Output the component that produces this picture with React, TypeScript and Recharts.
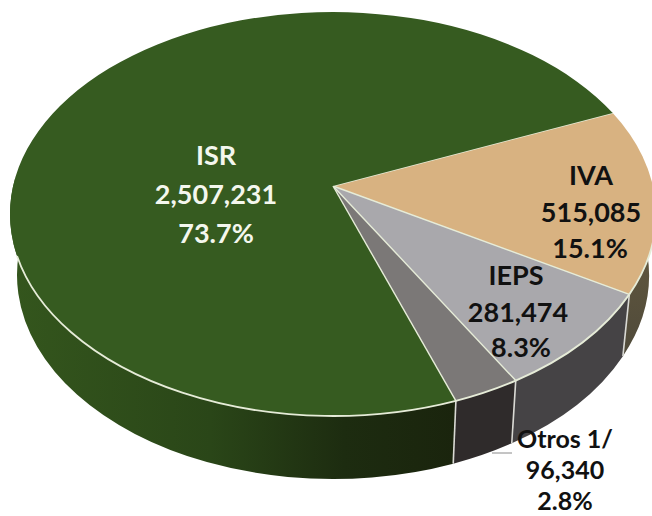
import React from "react";
import { PieChart, Pie } from "recharts";

const categories = ["IVA", "IEPS", "Otros 1/", "ISR"];
const amounts = [515085, 281474, 96340, 2507231];
const amountLabels = ["515,085", "281,474", "96,340", "2,507,231"];
const shareLabels = ["15.1%", "8.3%", "2.8%", "73.7%"];

const topColors = ["#d8b281", "#a9a8ac", "#7b7877", "#365b20"];
const sideFills = ["url(#sideIva)", "#454345", "#2f2b2b", "url(#sideIsr)"];
const labelColors = ["#111111", "#111111", "#111111", "#f4f7ee"];

const rows = categories.map((name, i) => ({ name, value: amounts[i] }));

// Projection of the tilted disc
const APEX = { x: 333, y: 186 };
const TOP = { x: 333, y: 214, rx: 323, ry: 202 };
const BOTTOM = { x: 333, y: 275, rx: 316, ry: 204 };
const LABEL_SIZES = [27, 27, 25, 27];
const LABEL_LINES = [
  [{ x: 591, y: 185 }, { x: 591, y: 222 }, { x: 590, y: 258 }],
  [{ x: 516, y: 285 }, { x: 518, y: 322 }, { x: 521, y: 357 }],
  [{ x: 565, y: 448 }, { x: 565, y: 479 }, { x: 565, y: 510 }],
  [{ x: 216, y: 165 }, { x: 216, y: 204 }, { x: 216, y: 243 }],
];
// Perspective: pie angle -> angle around the drawn ellipse
const WARP = [
  [30, 30],
  [-24.4, -23.3],
  [-54.3, -55.5],
  [-64.4, -67.5],
  [-330, -330],
];
const warp = (a: number) => {
  for (let i = 0; i < WARP.length - 1; i++) {
    const [a0, t0] = WARP[i];
    const [a1, t1] = WARP[i + 1];
    if (a <= a0 && a >= a1) return t0 + ((a - a0) / (a1 - a0)) * (t1 - t0);
  }
  return a;
};

const onEllipse = (e: typeof TOP, deg: number) => {
  const r = (deg * Math.PI) / 180;
  return { x: e.x + e.rx * Math.cos(r), y: e.y - e.ry * Math.sin(r) };
};
const arc = (e: typeof TOP, from: number, to: number) => {
  const end = onEllipse(e, to);
  const large = Math.abs(to - from) > 180 ? 1 : 0;
  const sweep = to < from ? 1 : 0;
  return `A${e.rx} ${e.ry} 0 ${large} ${sweep} ${end.x} ${end.y}`;
};

const RIM = "#e6ecd8";

const TopShape = (p: any) => {
  const s = warp(p.startAngle);
  const e = warp(p.endAngle);
  const a = onEllipse(TOP, s);
  const rimFrom = Math.min(s, 0);
  const rimTo = Math.max(e, -168);
  const r0 = onEllipse(TOP, rimFrom);
  return (
    <g>
      <path d={`M${APEX.x} ${APEX.y}L${a.x} ${a.y}${arc(TOP, s, e)}Z`} fill={topColors[p.index]} />
      <line x1={APEX.x} y1={APEX.y} x2={a.x} y2={a.y} stroke={RIM} strokeWidth={1.4} />
      {rimFrom > rimTo && (
        <path d={`M${r0.x} ${r0.y}${arc(TOP, rimFrom, rimTo)}`} fill="none" stroke={RIM} strokeWidth={1.8} />
      )}
    </g>
  );
};

const SideShape = (p: any) => {
  const s = warp(p.startAngle);
  const e = warp(p.endAngle);
  const from = Math.min(s, 8);
  const to = Math.max(e, -190);
  if (from <= to) return <g />;
  const a = onEllipse(TOP, from);
  const b = onEllipse(BOTTOM, to);
  const edge = onEllipse(TOP, s);
  const edgeLow = onEllipse(BOTTOM, s);
  return (
    <g>
      <path
        d={`M${a.x} ${a.y}${arc(TOP, from, to)}L${b.x} ${b.y}${arc(BOTTOM, to, from)}Z`}
        fill={sideFills[p.index]}
      />
      {s < 0 && <line x1={edge.x} y1={edge.y} x2={edgeLow.x} y2={edgeLow.y} stroke="#d9d9d4" strokeWidth={1.6} />}
    </g>
  );
};

const renderLabel = (p: any) => {
  const i = p.index;
  const lines = LABEL_LINES[i];
  const texts = [categories[i], amountLabels[i], shareLabels[i]];
  return (
    <g key={categories[i]}>
      {i === 2 && <line x1={492} y1={453} x2={512} y2={453} stroke="#8a8a8a" strokeWidth={1} />}
      {texts.map((t, k) => (
        <text
          key={k}
          x={lines[k].x}
          y={lines[k].y}
          textAnchor="middle"
          fill={labelColors[i]}
          fontFamily="Lato, 'Open Sans', sans-serif"
          fontWeight={700}
          fontSize={LABEL_SIZES[i]}
        >
          {t}
        </text>
      ))}
    </g>
  );
};

export default function App() {
  return (
    <div style={{ position: "absolute", left: 0, top: 0, width: 652, height: 516, overflow: "hidden", background: "#fff" }}>
      <PieChart width={652} height={516} margin={{ top: 0, right: 0, bottom: 0, left: 0 }}>
        <defs>
          <linearGradient id="sideIsr" x1="0" y1="0" x2="1" y2="0">
            <stop offset="0" stopColor="#34561d" />
            <stop offset="0.45" stopColor="#2a4618" />
            <stop offset="0.75" stopColor="#1d2c10" />
            <stop offset="1" stopColor="#1a240d" />
          </linearGradient>
          <linearGradient id="sideIva" x1="0" y1="1" x2="0" y2="0">
            <stop offset="0" stopColor="#4f4a3a" />
            <stop offset="1" stopColor="#6a5d40" />
          </linearGradient>
        </defs>
        <Pie
          data={rows}
          dataKey="value"
          nameKey="name"
          startAngle={30}
          endAngle={-330}
          cx={333}
          cy={186}
          outerRadius={200}
          paddingAngle={0}
          isAnimationActive={false}
          shape={SideShape}
          label={false}
          labelLine={false}
        />
        <Pie
          data={rows}
          dataKey="value"
          nameKey="name"
          startAngle={30}
          endAngle={-330}
          cx={333}
          cy={186}
          outerRadius={200}
          paddingAngle={0}
          isAnimationActive={false}
          shape={TopShape}
          label={renderLabel}
          labelLine={false}
        />
      </PieChart>
    </div>
  );
}
